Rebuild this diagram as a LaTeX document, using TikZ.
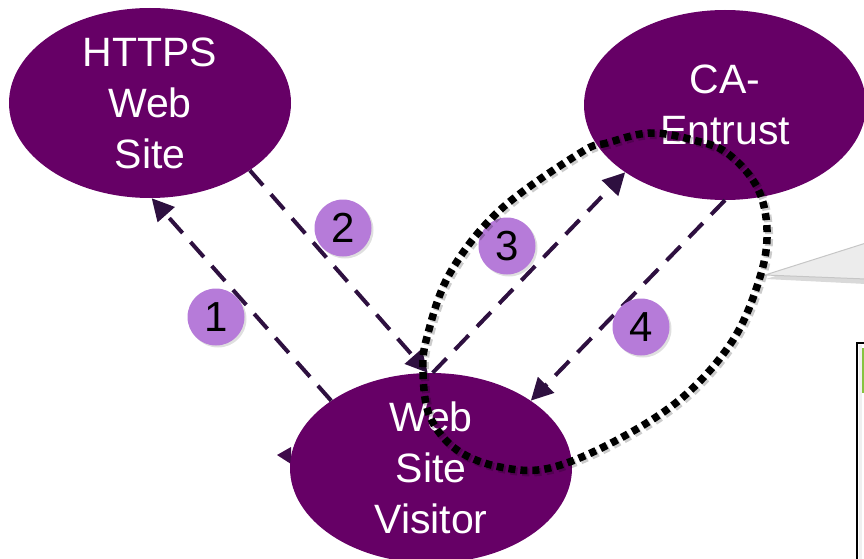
\documentclass[tikz,border=0pt]{standalone}
\usepackage{fontspec}
\setmainfont{Liberation Sans}
\usetikzlibrary{shapes.geometric,arrows.meta,shadows}
\definecolor{ellpurple}{HTML}{660066}
\definecolor{arrowpurple}{HTML}{2E1040}
\definecolor{numpurple}{HTML}{B67BD9}
\definecolor{boxgreen}{HTML}{86C440}
\tikzset{
  party/.style={ellipse, fill=ellpurple, text=white, minimum width=282pt,
    minimum height=190pt, inner sep=0pt, align=center,
    font=\fontsize{41}{51}\selectfont},
  flow/.style={arrowpurple, line width=4pt, dash pattern=on 20pt off 12pt,
    -{Triangle[length=22pt,width=22pt]}},
  stepnum/.style={circle, fill=numpurple, minimum size=57pt, inner sep=0pt,
    font=\fontsize{42}{42}\selectfont,
    drop shadow={shadow xshift=2pt, shadow yshift=-2pt, opacity=0.25}},
  loopline/.style={black, line width=7.5pt, dash pattern=on 7pt off 5pt},
  callout/.style={fill=gray!15, draw=gray!45, line width=1pt},
}
\begin{document}
\begin{tikzpicture}[x=1pt,y=-1pt]
\useasboundingbox (0,0) rectangle (864,559);
\clip (0,0) rectangle (864,559);
% stray arrow tip left of visitor
\fill[arrowpurple!70!ellpurple] (277,455) -- (291,447) -- (291,464) -- cycle;
% parties
\node[party] (https) at (150,103) {HTTPS\\Web\\Site};
\node[party] (ca) at (725,105) {CA-\\Entrust};
\node[party] (vis) at (431,468) {Web\\Site\\Visitor};
% flows
\draw[flow] (vis.146) -- (https.-89);
\draw[flow] (https.-34) -- (vis.92);
\draw[flow] (vis.89) -- (ca.214);
\draw[flow] (ca.-90) -- (vis.34);
% step numbers
\node[stepnum] (n1) at (216,317) {1};
\node[stepnum] (n2) at (343,228) {2};
\node[stepnum] (n3) at (507,246) {3};
\node[stepnum] (n4) at (641,327) {4};
% callout pointer
\fill[black, opacity=0.15] (766,279) -- (866,248) -- (866,284) -- cycle;
\draw[callout] (765,275) -- (866,243) -- (866,279) -- cycle;
% box at bottom right
\draw[black, line width=2pt, fill=white] (857,343) rectangle (880,570);
\fill[gray!12] (859,345) rectangle (862,570);
\fill[boxgreen] (862,348) rectangle (866,393);
% dotted loop
\draw[black, opacity=0.2, line width=8pt, dash pattern=on 7pt off 5pt, shift={(2,2)}]
  plot[smooth cycle, tension=0.6] coordinates {(650,133) (607,143) (580,153) (500,210) (450,273) (427,337) (423,373) (430,417) (457,450) (500,467) (550,468) (617,440) (683,397) (733,340) (760,277) (767,230) (757,187) (727,153) (693,140)};
\draw[loopline]
  plot[smooth cycle, tension=0.6] coordinates {(650,133) (607,143) (580,153) (500,210) (450,273) (427,337) (423,373) (430,417) (457,450) (500,467) (550,468) (617,440) (683,397) (733,340) (760,277) (767,230) (757,187) (727,153) (693,140)};
\end{tikzpicture}
\end{document}
